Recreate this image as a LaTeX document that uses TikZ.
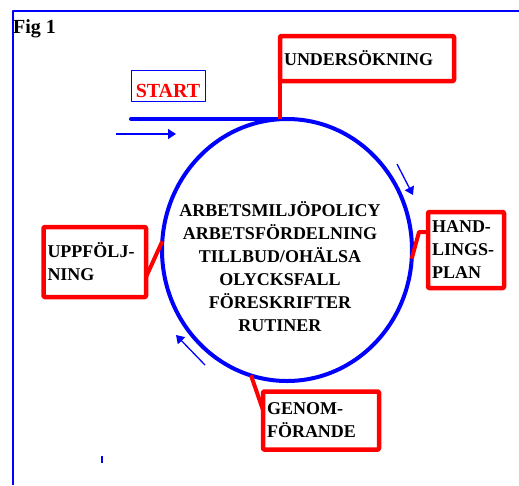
\documentclass[tikz,border=0pt]{standalone}
\usepackage{fontspec}
\setmainfont{Liberation Serif}
\usetikzlibrary{shapes.geometric,arrows.meta}
\tikzstyle{stage}=[draw=red, line width=4.5pt, rounded corners=1pt, anchor=north west, outer sep=0pt, inner xsep=4pt, inner ysep=0pt, align=left, text=black, font=\fontsize{18}{23}\selectfont\bfseries]
\tikzstyle{link}=[red, line width=4pt]
\tikzstyle{flow}=[blue, line width=1.3pt, -{Triangle[length=8pt,width=10pt]}]

\begin{document}
\begin{tikzpicture}[x=1pt, y=-1pt, line join=round]
\useasboundingbox (0,0) rectangle (519,485);
% Frame
    \draw[blue, line width=1.5pt] (519,11) -- (13,11) -- (13,485);
    \draw[blue, line width=2pt] (102,456) -- (102,463);
    \node[anchor=base west, inner sep=0pt, font=\fontsize{20}{24}\selectfont\bfseries] (fig) at (13,33) {Fig 1};
% Cycle
    \node[draw=blue, line width=4pt, ellipse, minimum width=250, minimum height=262, inner sep=0pt, outer sep=0pt] (cycle) at (287,250) {};
    \node[align=center, font=\fontsize{18}{23}\selectfont\bfseries] (policy) at (280,267)
        {ARBETSMILJÖPOLICY\\ARBETSFÖRDELNING\\TILLBUD/OHÄLSA\\OLYCKSFALL\\FÖRESKRIFTER\\RUTINER};
% Start
    \node[draw=blue, line width=1pt, outer sep=0pt, minimum width=74, minimum height=31, text height=23pt, text depth=0pt, text=red, font=\fontsize{20}{24}\selectfont\bfseries] (start) at (168,86.2) {START};
    \draw[blue, line width=4pt, line cap=round] (start.south west |- cycle.north) -- (cycle.north);
% Stages
    \node[stage, text width=166, minimum height=45] (unders) at (280,36) {UNDERSÖKNING};
    \node[stage, text width=68, minimum height=76] (hand) at (428,212) {HAND-\\LINGS-\\PLAN};
    \node[stage, text width=94.5, minimum height=70] (uppf) at (43.5,227) {UPPFÖLJ-\\NING};
    \node[stage, text width=108, minimum height=58] (genom) at (263,391.5) {GENOM-\\FÖRANDE};
% Links to the cycle
    \coordinate (handbend) at (419,232);
    \coordinate (uppfoot) at (146,277);
    \coordinate (genomfoot) at (263,410);
    \draw[link] (unders.south west) -- (unders.south west |- cycle.north);
    \draw[link] (cycle.-4) -- (handbend) -- (handbend -| hand.west);
    \draw[link] (uppfoot) -- (cycle.176);
    \draw[link] (cycle.-106) -- (genomfoot);
% Direction arrows
    \draw[flow] (116,134) -- (176,134);
    \draw[flow] (397,164) -- (413,195);
    \draw[flow] (205,365) -- (176,335);
\end{tikzpicture}
\end{document}
